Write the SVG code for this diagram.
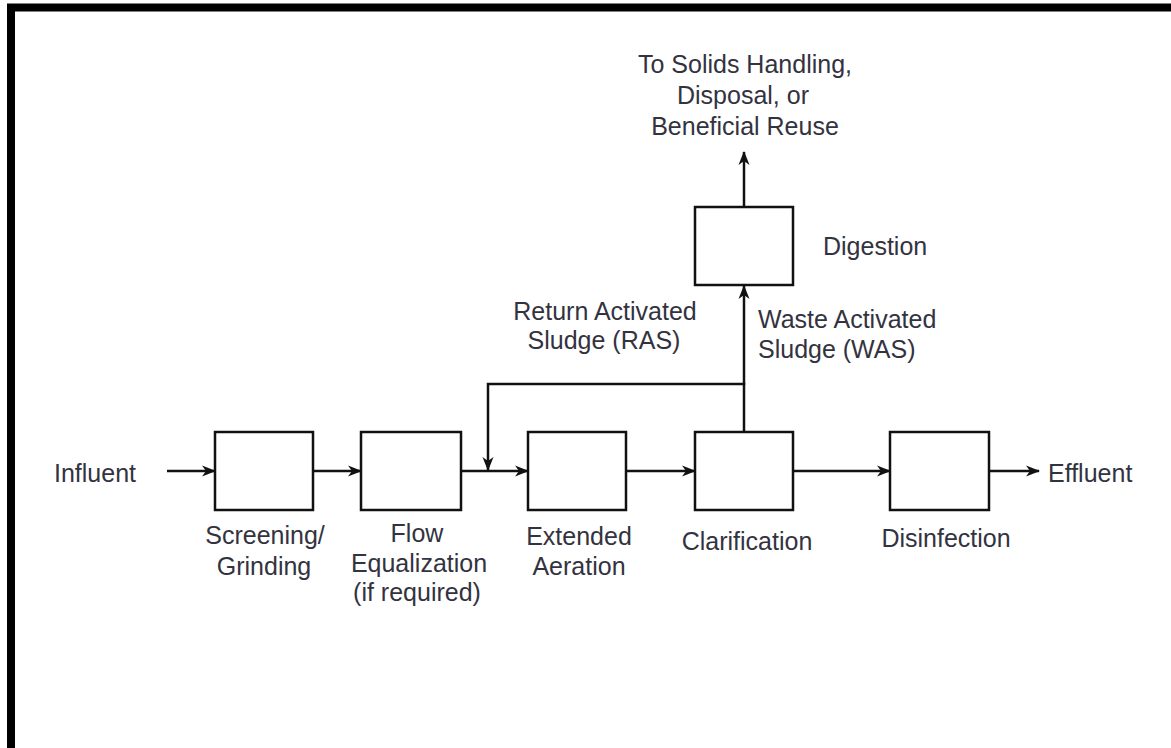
<svg xmlns="http://www.w3.org/2000/svg" width="1171" height="748" viewBox="0 0 1171 748">
<style>
.box{fill:#fff;stroke:#111;stroke-width:2.5}
.ln{fill:none;stroke:#111;stroke-width:2.5}
.t{font-family:"Liberation Sans",Arial,sans-serif;font-size:25px;fill:#33333f}
.c{text-anchor:middle}
</style>
<defs>
<marker id="ah" viewBox="0 0 14 12" refX="13" refY="6" markerWidth="14" markerHeight="12" markerUnits="userSpaceOnUse" orient="auto">
<path d="M0,0.5 L14,6 L0,11.5 L4,6 z" fill="#111"/>
</marker>
</defs>
<rect x="0" y="0" width="1171" height="748" fill="#fff"/>
<rect x="11" y="7.5" width="1200" height="800" fill="none" stroke="#000" stroke-width="8"/>
<g id="connectors">
<line class="ln" x1="167" y1="471" x2="215" y2="471" marker-end="url(#ah)"/>
<line class="ln" x1="313" y1="471" x2="361" y2="471" marker-end="url(#ah)"/>
<line class="ln" x1="461" y1="471" x2="528" y2="471" marker-end="url(#ah)"/>
<line class="ln" x1="626" y1="471" x2="695" y2="471" marker-end="url(#ah)"/>
<line class="ln" x1="793" y1="471" x2="890" y2="471" marker-end="url(#ah)"/>
<line class="ln" x1="989" y1="471" x2="1039" y2="471" marker-end="url(#ah)"/>
<polyline class="ln" points="744,432 744,384 488,384 488,470" marker-end="url(#ah)"/>
<line class="ln" x1="744" y1="385" x2="744" y2="286" marker-end="url(#ah)"/>
<line class="ln" x1="744" y1="207" x2="744" y2="152" marker-end="url(#ah)"/>
</g>
<g id="screening"><rect class="box" x="215" y="432" width="98" height="78"/>
<text class="t c" x="265" y="544">Screening/</text><text class="t c" x="264" y="575">Grinding</text></g>
<g id="flow-eq"><rect class="box" x="361" y="432" width="100" height="78"/>
<text class="t c" x="417" y="542">Flow</text><text class="t c" x="419" y="572">Equalization</text><text class="t c" x="417" y="601">(if required)</text></g>
<g id="aeration"><rect class="box" x="528" y="432" width="98" height="78"/>
<text class="t c" x="579" y="545">Extended</text><text class="t c" x="579" y="575">Aeration</text></g>
<g id="clarification"><rect class="box" x="695" y="432" width="98" height="78"/>
<text class="t c" x="747" y="550">Clarification</text></g>
<g id="disinfection"><rect class="box" x="890" y="432" width="99" height="78"/>
<text class="t c" x="946" y="547">Disinfection</text></g>
<g id="digestion"><rect class="box" x="695" y="207" width="98" height="78"/>
<text class="t" x="823" y="255">Digestion</text></g>
<g id="influent"><text class="t" x="54" y="482">Influent</text></g>
<g id="effluent"><text class="t" x="1048" y="482">Effluent</text></g>
<g id="ras-label"><text class="t c" x="605" y="320">Return Activated</text><text class="t c" x="604" y="349">Sludge (RAS)</text></g>
<g id="was-label"><text class="t" x="758" y="328">Waste Activated</text><text class="t" x="758" y="358">Sludge (WAS)</text></g>
<g id="solids"><text class="t c" x="745" y="73">To Solids Handling,</text><text class="t c" x="743" y="104">Disposal, or</text><text class="t c" x="745" y="135">Beneficial Reuse</text></g>
</svg>
